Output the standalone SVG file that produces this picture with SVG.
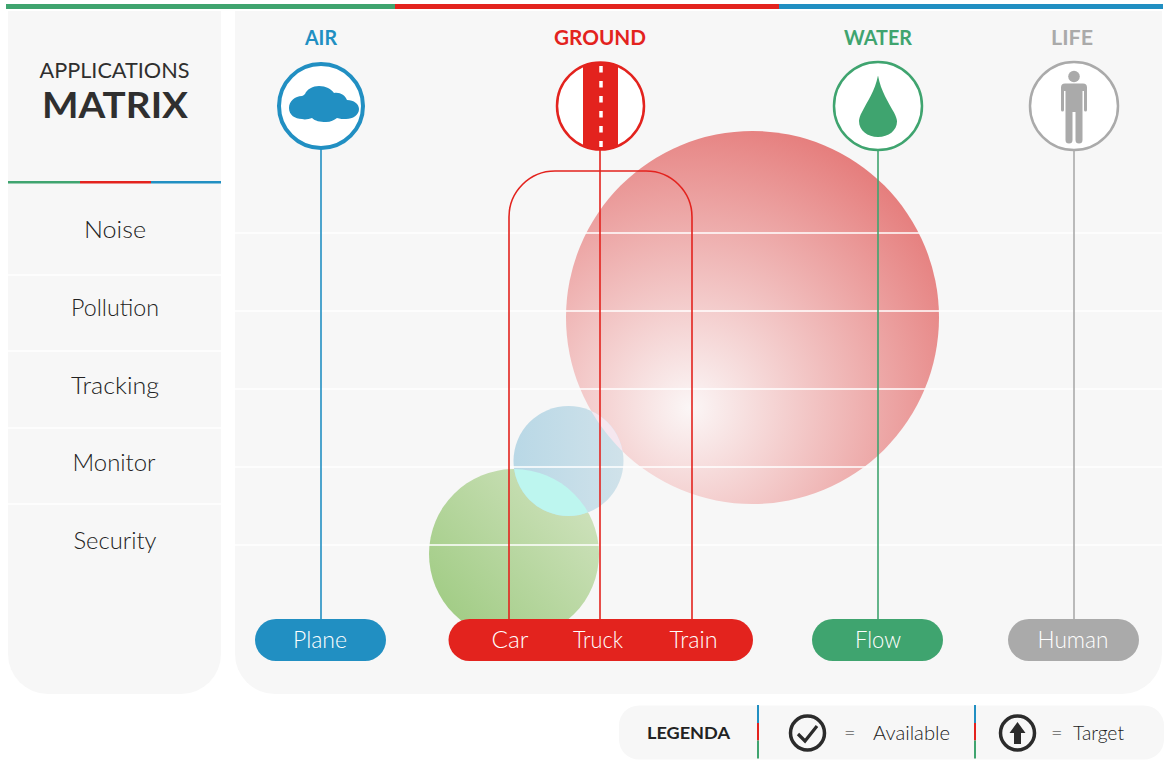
<svg xmlns="http://www.w3.org/2000/svg" width="1170" height="765" viewBox="0 0 1170 765">
<style>
text{font-family:"Lato","Liberation Sans",sans-serif;}
.panel{fill:#f7f7f7}
.grid{stroke:#fff;stroke-width:1.6;fill:none}
.row{font-size:24px;fill:#222;text-anchor:middle;font-weight:300}
.head{font-size:21px;font-weight:700;text-anchor:middle}
.pill{font-size:24px;fill:#fff;text-anchor:middle;font-weight:300}
.ring{fill:#fff}
.conn{fill:none;stroke-width:1.6}
.leg{font-size:20px;fill:#222;font-weight:300}
</style>
<defs>
<radialGradient id="gr" gradientUnits="userSpaceOnUse" cx="690" cy="408" r="300" fx="690" fy="408">
<stop offset="0" stop-color="#fbf6f6"/><stop offset="1" stop-color="#e57c7b"/>
</radialGradient>
<linearGradient id="gg" gradientUnits="userSpaceOnUse" x1="450" y1="610" x2="585" y2="490">
<stop offset="0" stop-color="#a3cd87"/><stop offset="1" stop-color="#cfe2bd"/>
</linearGradient>
<linearGradient id="gb" gradientUnits="userSpaceOnUse" x1="514" y1="460" x2="624" y2="460">
<stop offset="0" stop-color="#b9d8e6"/><stop offset="1" stop-color="#d0e2ea"/>
</linearGradient>
<clipPath id="cg"><circle cx="514" cy="554" r="85"/></clipPath>
<clipPath id="cr"><circle cx="752.500" cy="317.500" r="186.500"/></clipPath>
</defs>
<g id="topbar">
<rect x="6" y="4" width="389" height="5" fill="#3fa46f"/>
<rect x="395" y="4" width="384" height="5" fill="#e3231e"/>
<rect x="779" y="4" width="384" height="5" fill="#218fc2"/>
</g>
<g id="panels">
<path class="panel" d="M8 11H221V654a40 40 0 0 1-40 40H48a40 40 0 0 1-40-40Z"/>
<path class="panel" d="M235 11H1162V654a40 40 0 0 1-40 40H275a40 40 0 0 1-40-40Z"/>
</g>
<g id="title">
<text x="114.500" y="78" text-anchor="middle" font-size="21.500" fill="#2f2f2f" textLength="150" lengthAdjust="spacingAndGlyphs">APPLICATIONS</text>
<text x="115" y="118" text-anchor="middle" font-size="36" font-weight="700" fill="#2f2f2f" textLength="146" lengthAdjust="spacingAndGlyphs">MATRIX</text>
<rect x="8" y="181" width="72" height="2.500" fill="#3fa46f"/>
<rect x="80" y="181" width="71" height="2.500" fill="#e3231e"/>
<rect x="151" y="181" width="70" height="2.500" fill="#218fc2"/>
</g>
<g id="rows">
<path class="grid" d="M8 275H221M8 351H221M8 428H221M8 504H221"/>
<text class="row" x="115" y="238" textLength="62" lengthAdjust="spacingAndGlyphs">Noise</text>
<text class="row" x="115" y="316" textLength="88" lengthAdjust="spacingAndGlyphs">Pollution</text>
<text class="row" x="115" y="394" textLength="88" lengthAdjust="spacingAndGlyphs">Tracking</text>
<text class="row" x="114" y="471" textLength="83" lengthAdjust="spacingAndGlyphs">Monitor</text>
<text class="row" x="115" y="549" textLength="83" lengthAdjust="spacingAndGlyphs">Security</text>
</g>
<g id="bubbles">
<circle id="bubble-red" cx="752.500" cy="317.500" r="186.500" fill="url(#gr)"/>
<circle id="bubble-green" cx="514" cy="554" r="85" fill="url(#gg)"/>
<circle id="bubble-blue" cx="568.500" cy="461" r="55" fill="url(#gb)"/>
<circle cx="568.500" cy="461" r="55" fill="#bdf6ef" clip-path="url(#cg)"/>
<circle cx="568.500" cy="461" r="55" fill="#f5e7ef" clip-path="url(#cr)"/>
</g>
<g id="gridlines">
<path class="grid" d="M235 233H1162M235 311H1162M235 389H1162M235 467H1162M235 545H1162"/>
</g>
<g id="connectors">
<path class="conn" stroke="#218fc2" d="M321 148V620"/>
<path class="conn" stroke="#e3231e" d="M600 148V620"/>
<path class="conn" stroke="#e3231e" d="M509 620V217a46 46 0 0 1 46-46H646a46 46 0 0 1 46 46V620"/>
<path class="conn" stroke="#3fa46f" d="M878 148V620"/>
<path class="conn" stroke="#aaa" d="M1074 148V620"/>
</g>
<g id="air">
<text class="head" x="321" y="45" fill="#218fc2" textLength="32" lengthAdjust="spacingAndGlyphs">AIR</text>
<circle class="ring" cx="321" cy="106" r="42" stroke="#218fc2" stroke-width="4"/>
<path fill="#218fc2" d="M289 108c0-7 6-12 13-12 2-1 2-1 3-2 2-5 8-8 14-8 7 0 12 3 15 7 6-1 11 2 13 7 7 0 12 4 12 9 0 6-6 10-13 10-3 0-6 0-9-1-3 2-6 4-11 4-6 0-11-1-14-4-3 1-7 2-10 1-7 0-13-4-13-11Z"/>
</g>
<g id="ground">
<text class="head" x="600" y="45" fill="#e3231e" textLength="92" lengthAdjust="spacingAndGlyphs">GROUND</text>
<circle class="ring" cx="600.500" cy="106" r="43.500" stroke="#e3231e" stroke-width="2.500"/>
<path fill="#e3231e" d="M583 66a43.500 43.500 0 0 1 35 0V146a43.500 43.500 0 0 1-35 0Z"/>
<path stroke="#fff" stroke-width="3.500" fill="none" stroke-dasharray="6.500 8.500" d="M601 66V147"/>
</g>
<g id="water">
<text class="head" x="878" y="45" fill="#3fa46f" textLength="68" lengthAdjust="spacingAndGlyphs">WATER</text>
<circle class="ring" cx="878" cy="106" r="44" stroke="#3fa46f" stroke-width="2.500"/>
<path fill="#3fa46f" d="M878 75.500c3 16 10.500 27 16 37 2 4 3 7 3 9 0 9-8.500 15.500-19 15.500s-19-6.500-19-16c0-2 1-6 3-9 5.500-11 13-21 16-36.500Z"/>
</g>
<g id="life">
<text class="head" x="1072" y="45" fill="#aaa" textLength="42" lengthAdjust="spacingAndGlyphs">LIFE</text>
<circle class="ring" cx="1074" cy="106" r="44" stroke="#aaa" stroke-width="2.500"/>
<circle cx="1074" cy="76.500" r="5.800" fill="#aaa"/>
<path fill="#aaa" d="M1065 83.500H1083q4 0 4 4V110a1.500 1.500 0 0 1-3 0V91h-1.500v49a2.500 2.500 0 0 1-7 0V112h-3v28a2.500 2.500 0 0 1-7 0V91H1064V110a1.500 1.500 0 0 1-3 0V87.500q0-4 4-4Z"/>
</g>
<g id="pill-plane">
<rect x="255" y="619" width="131" height="42" rx="21" fill="#218fc2"/>
<text class="pill" x="320" y="648" textLength="54" lengthAdjust="spacingAndGlyphs">Plane</text>
</g>
<g id="pill-ground">
<rect x="448.500" y="619" width="304.500" height="42" rx="21" fill="#e3231e"/>
<text class="pill" x="510" y="648" textLength="37" lengthAdjust="spacingAndGlyphs">Car</text>
<text class="pill" x="598" y="648" textLength="50" lengthAdjust="spacingAndGlyphs">Truck</text>
<text class="pill" x="693.500" y="648" textLength="48" lengthAdjust="spacingAndGlyphs">Train</text>
</g>
<g id="pill-flow">
<rect x="812" y="619" width="131" height="42" rx="21" fill="#3fa46f"/>
<text class="pill" x="878" y="648" textLength="46" lengthAdjust="spacingAndGlyphs">Flow</text>
</g>
<g id="pill-human">
<rect x="1008" y="619" width="131" height="42" rx="21" fill="#aaa"/>
<text class="pill" x="1073" y="648" textLength="71" lengthAdjust="spacingAndGlyphs">Human</text>
</g>
<g id="legend">
<rect x="619" y="705.500" width="545" height="54" rx="20" class="panel"/>
<text x="647" y="739" font-size="17" font-weight="700" fill="#222" textLength="83" lengthAdjust="spacingAndGlyphs">LEGENDA</text>
<rect x="757" y="705" width="2" height="18" fill="#218fc2"/><rect x="757" y="723" width="2" height="17.500" fill="#e3231e"/><rect x="757" y="740.500" width="2" height="18" fill="#3fa46f"/>
<rect x="974" y="705" width="2" height="18" fill="#218fc2"/><rect x="974" y="723" width="2" height="17.500" fill="#e3231e"/><rect x="974" y="740.500" width="2" height="18" fill="#3fa46f"/>
<circle cx="807.500" cy="733" r="17" fill="none" stroke="#2b2b2b" stroke-width="3.500"/>
<path d="M798 734l7 7 12-15" fill="none" stroke="#2b2b2b" stroke-width="3.200"/>
<text class="leg" x="844" y="740">=</text>
<text class="leg" x="873" y="740" textLength="77" lengthAdjust="spacingAndGlyphs">Available</text>
<circle cx="1017.500" cy="733" r="17" fill="none" stroke="#2b2b2b" stroke-width="3.500"/>
<path d="M1017.500 722l8 11h-4.500v11h-7v-11h-4.500Z" fill="#2b2b2b"/>
<text class="leg" x="1051" y="740">=</text>
<text class="leg" x="1073" y="740" textLength="51" lengthAdjust="spacingAndGlyphs">Target</text>
</g>
</svg>
